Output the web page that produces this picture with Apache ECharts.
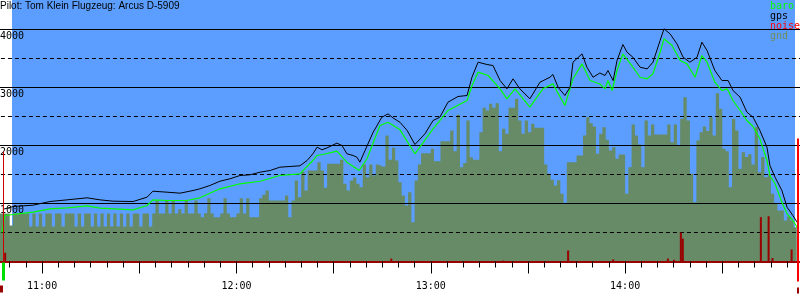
<!DOCTYPE html>
<html><head><meta charset="utf-8">
<script src="https://cdn.jsdelivr.net/npm/echarts@6/dist/echarts.min.js"></script>
<style>html,body{margin:0;padding:0;background:#fff}#c{width:800px;height:300px}</style>
</head><body><div id="c"></div>
<script>
// ---------- data (times are minutes after midnight) ----------
const titleText = 'Pilot: Tom Klein Flugzeug: Arcus D-5909';
const seriesNames = ['baro', 'gps', 'noise', 'gnd'];
const hourLabels = ['11:00', '12:00', '13:00', '14:00'];

// ground height, one value per minute starting 10:47
const gndStart = 647;
const gndAlt = [
  828,828,828,620,828,828,828,828,828,603,
  828,603,828,603,828,828,603,828,828,603,
  828,828,828,603,828,603,828,828,603,828,
  603,828,603,828,603,828,603,828,603,828,
  603,828,828,603,828,828,603,828,1052,828,
  828,1052,828,1052,828,900,828,1052,828,828,
  1052,828,
  764,833,1091,828,764,764,828,1091,828,764,
  764,828,1091,828,1091,764,764,764,1091,1149,
  1224,1052,1052,1052,1052,1052,1138,764,1052,1397,
  1109,1552,1224,1569,1569,1569,1712,1569,1270,1684,
  1684,1684,1684,1753,1340,1224,1397,1450,1340,1281,
  1672,1453,1672,1483,1672,1638,1638,2172,1753,1960,
  1741,1367,
  1138,966,1195,678,1397,1672,1867,1867,1867,1943,
  1729,1729,2074,2074,2074,2259,1900,2529,1626,1700,
  2431,1798,1753,1753,2229,2650,2603,2719,2650,2729,
  1902,2288,2202,2650,2650,2805,2431,2202,2431,2229,
  2374,2305,2305,2305,1672,1512,1408,1310,1400,1167,
  1005,1712,1712,1712,1828,1828,2172,2488,2385,2327,
  1857,2202,
  2316,2100,1914,1971,1771,1845,1845,1167,1626,2362,
  2172,2017,1626,2431,2172,2362,2190,2190,2190,2190,
  2362,2057,2362,2000,2460,2833,2431,1512,1022,2086,
  2229,2327,2250,2488,2172,2902,2632,1943,1900,1281,
  2460,2259,1598,1885,1800,1850,1672,2316,1540,1800,
  1453,1500,1167,1005,879,879,707,776,707,591,
  678
];

const gpsTime = [648.0,651.0,657.2,662.4,667.7,673.9,677.9,681.9,688.1,692.4,
  694.2,698.6,702.6,706.6,708.7,711.8,714.9,718.0,721.1,724.2,
  727.3,730.4,733.4,736.5,739.6,741.8,743.6,744.9,746.4,748.0,
  751.0,752.6,754.1,756.0,757.2,758.1,759.7,762.2,764.9,766.8,
  768.3,770.5,772.7,775.1,778.2,780.7,782.8,785.3,788.4,791.2,
  792.7,794.6,797.4,799.2,801.4,803.5,805.4,807.5,810.6,813.7,
  816.8,817.7,819.3,821.4,823.0,823.9,826.7,828.2,830.1,832.2,
  833.8,834.7,836.3,837.5,839.3,840.6,842.4,844.6,846.8,848.6,
  850.8,852.0,853.9,856.0,857.9,860.0,862.2,863.7,865.3,867.7,
  869.9,871.8,873.3,875.5,877.6,879.5,881.6,883.8,884.7,886.3,
  888.4,890.0,891.8,893.4];
const gpsAlt = [900,948,971,1034,1063,1098,1063,1040,1034,1109,
  1212,1195,1178,1224,1253,1310,1384,1426,1483,1495,
  1540,1569,1626,1638,1650,1741,1857,1971,1926,1960,
  2040,2000,1857,1828,1798,1712,1914,2229,2488,2546,
  2477,2400,2259,2017,2202,2431,2488,2746,2845,2862,
  3177,3436,3396,3379,3120,2977,3150,2977,2805,3091,
  3177,3224,3005,2862,3005,3436,3580,3350,3177,3250,
  3207,3293,3120,3465,3741,3608,3522,3350,3321,3436,
  3810,4012,3923,3752,3522,3436,3522,3781,3638,3293,
  3120,3120,2948,2833,2574,2488,2259,1971,1655,1453,
  1224,936,793,650];

const baroTime = [647.6,648.5,651.0,657.2,662.4,667.7,673.9,677.9,684.0,688.1,
  692.4,694.2,698.6,704.7,708.7,714.9,721.1,727.3,733.4,739.6,
  743.6,744.9,746.7,751.0,754.1,757.9,760.3,764.3,766.8,770.5,
  775.1,780.7,785.3,791.2,792.7,794.6,797.7,801.4,803.5,806.0,
  810.6,814.6,817.7,821.4,823.9,826.7,829.2,832.2,833.8,834.7,
  836.0,837.5,839.3,842.4,844.6,846.8,848.6,850.8,852.0,854.5,
  857.0,859.1,861.6,863.7,865.3,867.7,869.9,871.5,873.3,875.5,
  877.6,879.5,881.6,883.8,884.7,886.3,888.4,890.0,891.8,893.4];
const baroAlt = [500,793,810,850,908,926,960,919,902,891,
  965,1063,1052,1052,1098,1253,1340,1384,1483,1512,
  1741,1828,1845,1902,1712,1569,1771,2345,2402,2270,
  1857,2288,2603,2776,3030,3264,3207,2977,2805,2977,
  2660,2977,3063,2690,3150,3407,3120,3060,2977,3120,
  2948,3293,3580,3350,3177,3150,3236,3608,3839,3724,
  3465,3408,3177,3551,3436,3091,2948,2977,2776,2603,
  2431,2327,2115,1741,1483,1340,1022,822,707,564];

const noiseTime = [648.6,767.8,802.3,822.4,836.3,853.2,855.1,857.2,857.8,881.9,884.3,885.5,891.4];
const noiseVal  = [150,50,15,190,35,50,30,500,395,765,780,60,207];

// start / end cursor markers
const cursorTime = [647.9, 893.3];
const cursorTop  = [1900, 2120];

const gridSolid  = [1000, 2000, 3000, 4000];
const gridDashed = [500, 1500, 2500, 3500];

// ---------- chart ----------
const pxPerMin = 3.239;
const xMin = 630, xMax = 900;
const gridLeft = -(gndStart - xMin) * pxPerMin;
const gridRight = 800 - (gridLeft + (xMax - xMin) * pxPerMin);
const monoFont = 'DejaVu Sans Mono';
const gndColor = '#668b66';

const chart = echarts.init(document.getElementById('c'), null, {renderer: 'canvas'});

const pad = n => (n < 10 ? '0' : '') + n;
const option = {
  animation: false,
  backgroundColor: '#ffffff',
  title: {text: titleText, left: 0, top: 1, padding: 0,
    textStyle: {fontFamily: 'Liberation Sans', fontSize: 10, fontWeight: 'normal', color: '#000'}},
  legend: {orient: 'vertical', left: 765, top: 1, padding: 0, itemGap: 0, itemWidth: 0, itemHeight: 10,
    icon: 'none', selectedMode: false,
    textStyle: {fontFamily: monoFont, fontSize: 10, lineHeight: 10},
    data: [
      {name: seriesNames[0], textStyle: {color: '#00ff00'}},
      {name: seriesNames[1], textStyle: {color: '#000000'}},
      {name: seriesNames[2], textStyle: {color: '#ff0000'}},
      {name: seriesNames[3], textStyle: {color: '#6e8f5e'}}
    ]},
  grid: {left: gridLeft, right: gridRight, top: 0.5, height: 261, containLabel: false, outerBoundsMode: 'none'},
  xAxis: {type: 'value', min: xMin, max: xMax, interval: 30, z: 20,
    axisLine: {lineStyle: {color: '#990000', width: 2}},
    axisTick: {length: 12, lineStyle: {color: '#000'}},
    minorTick: {show: true, splitNumber: 6, length: 6, lineStyle: {color: '#000'}},
    splitLine: {show: false}, minorSplitLine: {show: false},
    axisLabel: {margin: 20, fontFamily: monoFont, fontSize: 10, color: '#000',
      formatter: v => { const s = pad(Math.floor(v / 60)) + ':' + pad(v % 60); return hourLabels.indexOf(s) >= 0 ? s : ''; }}},
  yAxis: {type: 'value', min: 0, max: 4500, interval: 1000, offset: gridLeft, z: 20,
    axisLine: {show: false}, axisTick: {show: false}, splitLine: {show: false},
    axisLabel: {inside: true, margin: 0, align: 'left', verticalAlign: 'top', padding: [2, 0, 0, 0],
      fontFamily: monoFont, fontSize: 10, color: '#000',
      formatter: v => (v > 0 && v <= 4000 ? String(v) : '')}},
  series: [
    {name: seriesNames[3], type: 'line', step: 'end', symbol: 'none', z: 1,
      data: gndAlt.map((v, k) => [gndStart + k, v]),
      lineStyle: {width: 0}, itemStyle: {color: gndColor},
      areaStyle: {color: gndColor, opacity: 1},
      markLine: {silent: true, symbol: ['none', 'none'], label: {show: false}, animation: false,
        lineStyle: {color: '#000', width: 1},
        data: gridSolid.map(v => ({yAxis: v, lineStyle: {type: 'solid', color: '#000', width: 1}}))
          .concat(gridDashed.map(v => ({yAxis: v, lineStyle: {type: [4, 3], color: '#000', width: 1}})))}},
    {name: seriesNames[2], type: 'bar', barWidth: 2, z: 6,
      data: noiseTime.map((t, i) => [t, noiseVal[i]]),
      itemStyle: {color: '#990000'}},
    {name: seriesNames[0], type: 'line', symbol: 'none', z: 10,
      data: baroTime.map((t, i) => [t, baroAlt[i]]),
      lineStyle: {color: '#00ff00', width: 1.2}, itemStyle: {color: '#00ff00'}},
    {name: seriesNames[1], type: 'line', symbol: 'none', z: 11,
      data: gpsTime.map((t, i) => [t, gpsAlt[i]]),
      lineStyle: {color: '#000000', width: 1}, itemStyle: {color: '#000000'}}
  ]
};
chart.setOption(option);

// background sky and cursor markers, placed through the axes
const y0 = chart.convertToPixel({yAxisIndex: 0}, 0);
const yTop = chart.convertToPixel({yAxisIndex: 0}, 4500);
const xs = Math.round(chart.convertToPixel({xAxisIndex: 0}, cursorTime[0]));
const xe = Math.round(chart.convertToPixel({xAxisIndex: 0}, cursorTime[1]));
const ysTop = chart.convertToPixel({yAxisIndex: 0}, cursorTop[0]);
const yeTop = chart.convertToPixel({yAxisIndex: 0}, cursorTop[1]);
chart.setOption({graphic: {elements: [
  {type: 'rect', z: -10, silent: true, shape: {x: 12, y: yTop - 0.5, width: 783, height: y0 - yTop + 0.5}, style: {fill: '#5c9eff'}},
  {type: 'rect', z: 30, silent: true, shape: {x: xs, y: ysTop, width: 1, height: y0 - ysTop}, style: {fill: '#cc0000'}},
  {type: 'rect', z: 30, silent: true, shape: {x: xs - 1, y: y0 + 1, width: 3, height: 18}, style: {fill: '#00dd00'}},
  {type: 'rect', z: 30, silent: true, shape: {x: xs - 3, y: y0 + 24, width: 3, height: 7}, style: {fill: '#990000'}},
  {type: 'rect', z: 30, silent: true, shape: {x: xe - 1, y: yeTop, width: 2, height: y0 + 20 - yeTop}, style: {fill: '#ff0000'}},
  {type: 'rect', z: 30, silent: true, shape: {x: xe - 1, y: y0 + 26, width: 2, height: 6}, style: {fill: '#990000'}}
]}});
</script>
</body></html>
